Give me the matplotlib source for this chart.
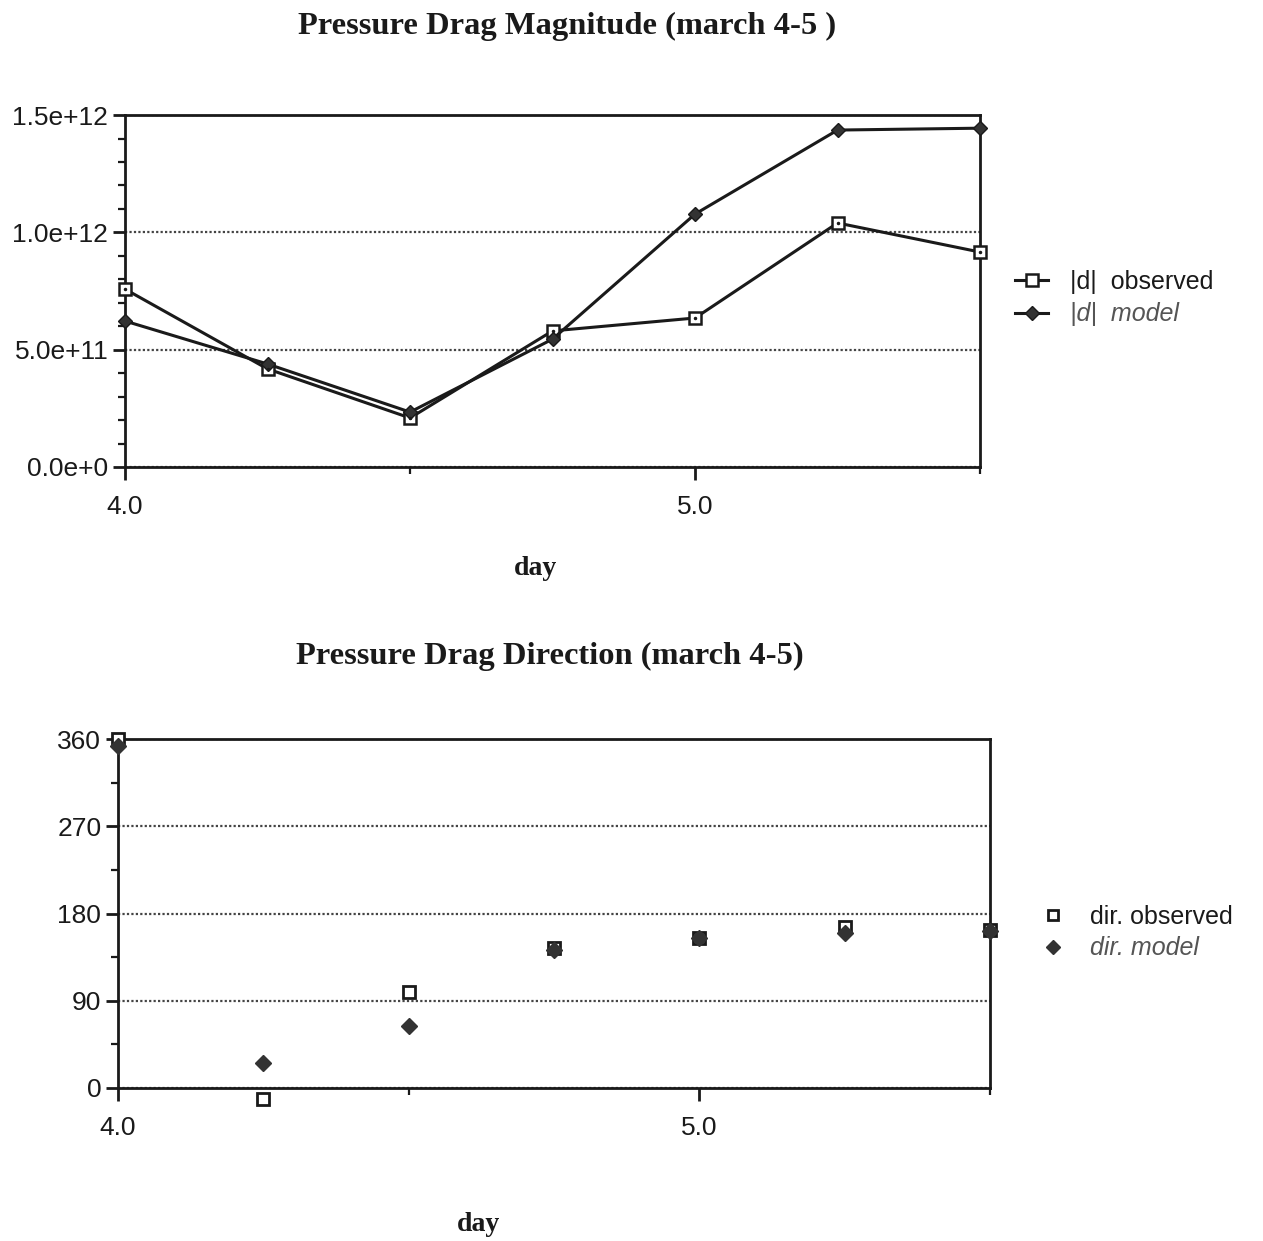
import matplotlib
matplotlib.use("Agg")
import matplotlib.pyplot as plt
from matplotlib.ticker import MultipleLocator, FixedLocator, FuncFormatter

# ==== data
days = [4.0, 4.25, 4.5, 4.75, 5.0, 5.25, 5.5]
mag_observed = [0.758e12, 0.418e12, 0.209e12, 0.580e12, 0.635e12, 1.040e12, 0.916e12]
mag_model = [0.622e12, 0.439e12, 0.234e12, 0.545e12, 1.078e12, 1.436e12, 1.444e12]
dir_observed = [360, -11, 99, 144, 155, 166, 163]
dir_model = [353, 26, 64, 142, 155, 160, 162]

sans = "Liberation Sans"
serif = "Liberation Serif"
ink = "#1a1a1a"

fig = plt.figure(figsize=(12.63, 12.41), dpi=100)


def style_axes(ax):
    for side in ["top", "right", "left", "bottom"]:
        ax.spines[side].set_color(ink)
        ax.spines[side].set_linewidth(2.0)
    ax.tick_params(axis="both", which="major", direction="out", length=9,
                   width=2, color=ink, labelsize=19, labelcolor=ink)
    ax.tick_params(axis="both", which="minor", direction="out", length=5,
                   width=1.6, color=ink)
    ax.tick_params(axis="x", pad=11)
    ax.tick_params(axis="y", pad=3)
    for lab in ax.get_xticklabels() + ax.get_yticklabels():
        lab.set_fontfamily(sans)
    ax.yaxis.grid(True, which="major", linestyle=(0, (1, 1)), color="#444444", linewidth=1.6)
    ax.set_axisbelow(True)


def sci(v, p):
    if v == 0:
        return "0.0e+0"
    e = 0
    m = v
    while abs(m) >= 10:
        m /= 10.0
        e += 1
    return "%.1fe+%d" % (m, e)


# ---- top chart: magnitude
ax1 = fig.add_axes([0.099, 0.6237, 0.677, 0.2836])
ax1.plot(days, mag_observed, color=ink, linewidth=2.2, marker="s", markersize=9,
         markerfacecolor="white", markeredgecolor=ink, markeredgewidth=1.8,
         label="|d|  observed", clip_on=False, zorder=3)
ax1.plot(days, mag_observed, linestyle="none", marker=".", markersize=3,
         color=ink, clip_on=False, zorder=4)
ax1.plot(days, mag_model, color=ink, linewidth=2.2, marker="D", markersize=7,
         markerfacecolor="#333333", markeredgecolor=ink, label="|d|  model",
         clip_on=False, zorder=3)
ax1.set_xlim(4.0, 5.5)
ax1.set_ylim(0, 1.5e12)
ax1.xaxis.set_major_locator(FixedLocator([4.0, 5.0]))
ax1.xaxis.set_minor_locator(FixedLocator([4.5, 5.5]))
ax1.yaxis.set_major_locator(MultipleLocator(5e11))
ax1.yaxis.set_minor_locator(MultipleLocator(1e11))
ax1.xaxis.set_major_formatter(FuncFormatter(lambda v, p: "%.1f" % v))
ax1.yaxis.set_major_formatter(FuncFormatter(sci))
style_axes(ax1)
fig.text(0.449, 0.979, "Pressure Drag Magnitude (march 4-5 )", ha="center", va="center",
         fontfamily=serif, fontweight="bold", fontsize=23.4, color=ink)
fig.text(0.424, 0.542, "day", ha="center", va="center",
         fontfamily=serif, fontweight="bold", fontsize=20, color=ink)
leg1 = ax1.legend(loc="center left", bbox_to_anchor=(1.015, 0.48), frameon=False,
                  prop={"family": sans, "size": 18}, handlelength=1.3,
                  handletextpad=0.9, labelspacing=0.35)
for t in leg1.get_texts():
    t.set_color(ink)
leg1.get_texts()[1].set_fontstyle("italic")
leg1.get_texts()[1].set_color("#555555")

# ---- bottom chart: direction
ax2 = fig.add_axes([0.0934, 0.1233, 0.6904, 0.2812])
ax2.plot(days, dir_observed, linestyle="none", marker="s", markersize=9,
         markerfacecolor="white", markeredgecolor=ink, markeredgewidth=2,
         label="dir. observed", clip_on=False, zorder=3)
ax2.plot(days, dir_model, linestyle="none", marker="D", markersize=8,
         markerfacecolor="#333333", markeredgecolor="#333333",
         label="dir. model", clip_on=False, zorder=4)
ax2.set_xlim(4.0, 5.5)
ax2.set_ylim(0, 360)
ax2.xaxis.set_major_locator(FixedLocator([4.0, 5.0]))
ax2.xaxis.set_minor_locator(FixedLocator([4.5, 5.5]))
ax2.yaxis.set_major_locator(MultipleLocator(90))
ax2.yaxis.set_minor_locator(MultipleLocator(45))
ax2.xaxis.set_major_formatter(FuncFormatter(lambda v, p: "%.1f" % v))
style_axes(ax2)
fig.text(0.435, 0.471, "Pressure Drag Direction (march 4-5)", ha="center", va="center",
         fontfamily=serif, fontweight="bold", fontsize=23.4, color=ink)
fig.text(0.379, 0.013, "day", ha="center", va="center",
         fontfamily=serif, fontweight="bold", fontsize=20, color=ink)
leg2 = ax2.legend(loc="center left", bbox_to_anchor=(1.035, 0.445), frameon=False,
                  prop={"family": sans, "size": 18}, handlelength=0.8,
                  handletextpad=1.1, labelspacing=0.3, markerscale=0.85)
for t in leg2.get_texts():
    t.set_color(ink)
leg2.get_texts()[1].set_fontstyle("italic")
leg2.get_texts()[1].set_color("#555555")

fig.savefig("out.png", dpi=100)
